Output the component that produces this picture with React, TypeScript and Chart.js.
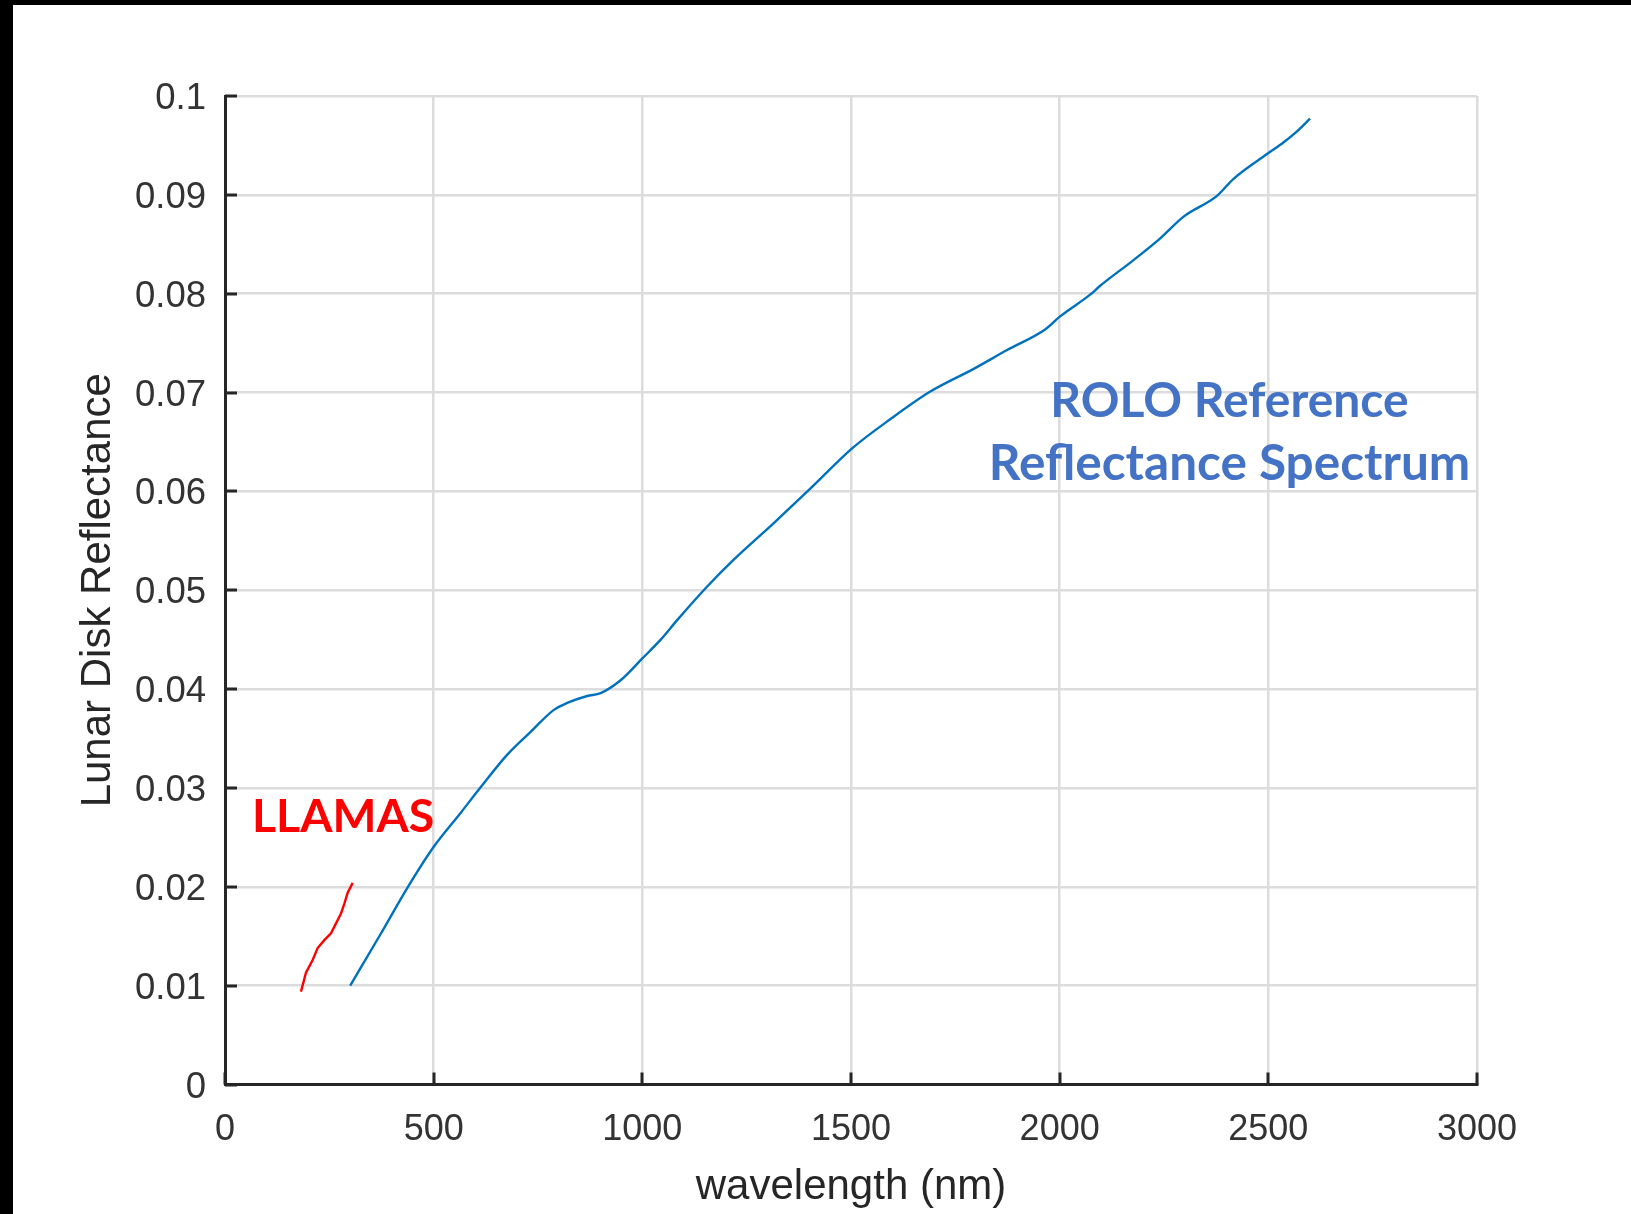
import React, { useEffect, useRef } from "react";
import { Chart, registerables } from "chart.js";

Chart.register(...registerables);

// ROLO reference reflectance spectrum (wavelength nm, disk reflectance)
const roloWavelength = [
  300, 374, 437, 501, 565, 613, 677, 733, 788, 820, 868, 900, 948, 1000, 1044,
  1084, 1156, 1219, 1315, 1403, 1504, 1594, 1690, 1794, 1874, 1966, 2001, 2073,
  2097, 2177, 2241, 2297, 2377, 2416, 2496, 2536, 2568, 2600,
];
const roloReflectance = [
  0.01, 0.0153, 0.0199, 0.0241, 0.0275, 0.0301, 0.0334, 0.0357, 0.0379, 0.0386,
  0.0393, 0.0396, 0.0409, 0.0431, 0.045, 0.047, 0.0504, 0.0531, 0.0568, 0.0603,
  0.0644, 0.0673, 0.0701, 0.0724, 0.0743, 0.0764, 0.0777, 0.0799, 0.0808, 0.0834,
  0.0856, 0.0878, 0.0899, 0.0916, 0.0941, 0.0953, 0.0964, 0.0977,
];

// LLAMAS measurement
const llamasWavelength = [182, 194, 210, 222, 238, 254, 266, 278, 286, 294, 306];
const llamasReflectance = [
  0.0094, 0.0113, 0.0126, 0.0138, 0.0146, 0.0153, 0.0163, 0.0173, 0.0183, 0.0194,
  0.0204,
];

const xTickValues = [0, 500, 1000, 1500, 2000, 2500, 3000];
const yTickValues = [0, 0.01, 0.02, 0.03, 0.04, 0.05, 0.06, 0.07, 0.08, 0.09, 0.1];

const xAxisTitle = "wavelength (nm)";
const yAxisTitle = "Lunar Disk Reflectance";

const annotationTexts = ["ROLO Reference", "Reflectance Spectrum", "LLAMAS"];
const annotationX = [2407, 2407, 283];
const annotationY = [0.06756, 0.0612, 0.02556];
const annotationColors = ["#4472C4", "#4472C4", "#FF0000"];
const annotationFontSizes = [48, 49.5, 46.5];

const AXIS_COLOR = "#262626";
const GRID_COLOR = "#dcdcdc";
const SANS = "'Liberation Sans', Arial, sans-serif";

const annotationPlugin = {
  id: "textAnnotations",
  afterDatasetsDraw(chart: any) {
    const { ctx, scales } = chart;
    ctx.save();
    ctx.textAlign = "center";
    ctx.textBaseline = "alphabetic";
    annotationTexts.forEach((t, i) => {
      ctx.font = `bold ${annotationFontSizes[i]}px Lato, 'Open Sans', sans-serif`;
      ctx.fillStyle = annotationColors[i];
      ctx.fillText(
        t,
        scales.x.getPixelForValue(annotationX[i]),
        scales.y.getPixelForValue(annotationY[i])
      );
    });
    ctx.restore();
  },
};

const inwardTicksPlugin = {
  id: "inwardTicks",
  afterDraw(chart: any) {
    const { ctx, chartArea, scales } = chart;
    ctx.save();
    ctx.strokeStyle = AXIS_COLOR;
    ctx.lineWidth = 3;
    ctx.beginPath();
    scales.y.ticks.forEach((t: any) => {
      const p = Math.round(scales.y.getPixelForValue(t.value));
      ctx.moveTo(chartArea.left, p);
      ctx.lineTo(chartArea.left + 12, p);
    });
    scales.x.ticks.forEach((t: any) => {
      const p = Math.round(scales.x.getPixelForValue(t.value));
      ctx.moveTo(p, chartArea.bottom);
      ctx.lineTo(p, chartArea.bottom - 12);
    });
    ctx.stroke();
    ctx.restore();
  },
};

export default function App() {
  const canvasRef = useRef<HTMLCanvasElement | null>(null);

  useEffect(() => {
    document.body.style.margin = "0";
    const canvas = canvasRef.current;
    if (!canvas) return;
    const chart = new Chart(canvas, {
      type: "line",
      data: {
        datasets: [
          {
            label: "ROLO",
            data: roloWavelength.map((w, i) => ({ x: w, y: roloReflectance[i] })),
            borderColor: "#0072BD",
            borderWidth: 2.4,
            pointRadius: 0,
            cubicInterpolationMode: "monotone",
            fill: false,
          },
          {
            label: "LLAMAS",
            data: llamasWavelength.map((w, i) => ({ x: w, y: llamasReflectance[i] })),
            borderColor: "#FF0000",
            borderWidth: 2.4,
            pointRadius: 0,
            tension: 0,
            fill: false,
          },
        ],
      },
      options: {
        responsive: false,
        animation: false,
        devicePixelRatio: 1,
        layout: { padding: { top: 91, right: 154, bottom: 0, left: 0 } },
        plugins: {
          legend: { display: false },
          tooltip: { enabled: false },
        },
        scales: {
          x: {
            type: "linear",
            min: 0,
            max: 3000,
            afterBuildTicks: (scale: any) => {
              scale.ticks = xTickValues.map((v) => ({ value: v }));
            },
            afterFit: (scale: any) => {
              scale.height = 129.5;
            },
            grid: { color: GRID_COLOR, lineWidth: 2.5, drawTicks: false },
            border: { display: true, color: AXIS_COLOR, width: 3 },
            ticks: {
              autoSkip: false,
              maxRotation: 0,
              padding: 24,
              color: "#333333",
              font: { family: SANS, size: 36 },
              callback: (v: any) => String(v),
            },
            title: {
              display: true,
              text: xAxisTitle,
              color: AXIS_COLOR,
              font: { family: SANS, size: 42 },
              padding: { top: 0, bottom: 1 },
            },
          },
          y: {
            type: "linear",
            min: 0,
            max: 0.1,
            afterBuildTicks: (scale: any) => {
              scale.ticks = yTickValues.map((v) => ({ value: v }));
            },
            afterFit: (scale: any) => {
              scale.width = 212;
            },
            grid: { color: GRID_COLOR, lineWidth: 2.5, drawTicks: false },
            border: { display: true, color: AXIS_COLOR, width: 3 },
            ticks: {
              autoSkip: false,
              padding: 19,
              labelOffset: 3,
              color: "#333333",
              font: { family: SANS, size: 36.5 },
              callback: (v: any) => String(Number(Number(v).toFixed(2))),
            },
            title: {
              display: true,
              text: yAxisTitle,
              color: AXIS_COLOR,
              font: { family: SANS, size: 42 },
              padding: { top: 60, bottom: 0 },
            },
          },
        },
      },
      plugins: [annotationPlugin, inwardTicksPlugin],
    } as any);
    return () => chart.destroy();
  }, []);

  return (
    <div
      style={{
        position: "fixed",
        left: 0,
        top: 0,
        width: 1631,
        height: 1214,
        background: "#000",
        overflow: "hidden",
      }}
    >
      <canvas
        ref={canvasRef}
        width={1618}
        height={1209}
        style={{
          position: "absolute",
          left: 13,
          top: 5,
          width: 1618,
          height: 1209,
          background: "#fff",
        }}
      />
    </div>
  );
}
